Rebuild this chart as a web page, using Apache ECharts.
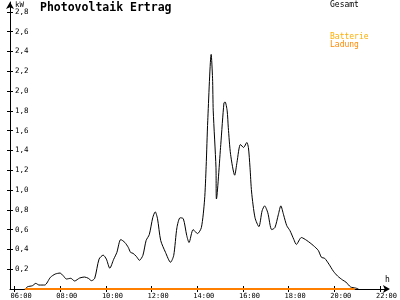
<!DOCTYPE html>
<html>
<head>
<meta charset="utf-8">
<script src="https://cdn.jsdelivr.net/npm/echarts@6/dist/echarts.min.js"></script>
<style>html,body{margin:0;padding:0;background:#fff}#c{width:400px;height:300px}</style>
</head>
<body>
<div id="c"></div>
<script>
// time in decimal hours
var gesamtHours = [6.47,6.57,6.78,6.93,7.07,7.32,7.57,7.78,7.99,8.13,8.27,8.46,8.63,8.85,9.06,9.23,9.37,9.51,9.70,9.88,10.02,10.17,10.34,10.48,10.65,10.83,10.98,11.08,11.19,11.33,11.47,11.62,11.76,11.90,12.05,12.16,12.26,12.40,12.61,12.83,12.97,13.11,13.25,13.39,13.54,13.64,13.82,14.01,14.18,14.32,14.39,14.46,14.61,14.67,14.70,14.82,14.84,15.03,15.17,15.22,15.31,15.36,15.46,15.64,15.74,15.89,16.03,16.17,16.24,16.31,16.38,16.53,16.70,16.84,16.95,17.09,17.26,17.40,17.55,17.66,17.78,17.92,18.06,18.23,18.34,18.56,18.80,19.08,19.30,19.44,19.58,19.77,19.96,20.15,20.37,20.51,20.72,20.93,21.06];
var gesamtKW = [0,0.023,0.033,0.057,0.04,0.04,0.118,0.151,0.161,0.134,0.101,0.108,0.081,0.111,0.121,0.108,0.084,0.108,0.302,0.342,0.302,0.21,0.30,0.37,0.50,0.47,0.42,0.37,0.36,0.33,0.29,0.34,0.49,0.55,0.72,0.78,0.71,0.49,0.37,0.27,0.34,0.62,0.72,0.71,0.54,0.47,0.60,0.56,0.62,0.90,1.24,1.70,2.37,2.13,1.80,1.23,0.91,1.46,1.88,1.89,1.80,1.63,1.36,1.15,1.28,1.46,1.43,1.48,1.43,1.23,0.98,0.72,0.63,0.79,0.84,0.77,0.60,0.62,0.75,0.84,0.75,0.64,0.59,0.50,0.45,0.52,0.49,0.44,0.39,0.32,0.31,0.25,0.18,0.13,0.09,0.07,0.02,0.01,0];
var ladungHours = [6.45, 20.9];
var ladungKW = [0, 0];
var xTicks = [6,8,10,12,14,16,18,20,22];
var yTicks = [0.2,0.4,0.6,0.8,1.0,1.2,1.4,1.6,1.8,2.0,2.2,2.4,2.6,2.8];

var gesamtData = gesamtHours.map(function(h,i){return [h, gesamtKW[i]];});
var ladungData = ladungHours.map(function(h,i){return [h, ladungKW[i]];});

var mono = 'DejaVu Sans Mono';
function pad(n){return (n<10?'0':'')+n;}
var chart = echarts.init(document.getElementById('c'), null, {renderer:'canvas'});
var xBase = {type:'value', min:5.8, max:22.35, position:'bottom', splitLine:{show:false}};
var yBase = {type:'value', min:0, max:2.9, position:'left', splitLine:{show:false}};
function t(text, left, top, size, color, bold){
  return {text:text, left:left, top:top, padding:0, textStyle:{fontFamily:mono, fontWeight:bold?'bold':'normal', fontSize:size, color:color}};
}
chart.setOption({
  animation:false,
  backgroundColor:'#fff',
  grid:{left:10,right:2,top:2,bottom:10},
  title:[
    t('Photovoltaik Ertrag', 40, 2, 11.5, '#000', true),
    t('kW', 15, 1, 7.5, '#000'),
    t('Gesamt', 330, 1, 8, '#000'),
    t('Batterie', 330, 33, 8, '#ffae00'),
    t('Ladung', 330, 41, 8, '#ff8a00'),
    t('h', 385, 276, 8, '#000')
  ],
  xAxis:[
    Object.assign({}, xBase, {
      axisLine:{show:true, lineStyle:{color:'#000', width:1}, symbol:['none','arrow'], symbolSize:[6,7], symbolOffset:[0,2]},
      axisTick:{show:true, inside:false, length:3, customValues:xTicks, lineStyle:{color:'#000'}},
      axisLabel:{show:true, customValues:xTicks, margin:4, align:'left', padding:[0,0,0,-4], fontFamily:mono, fontSize:7, color:'#000',
        formatter:function(v){return pad(Math.round(v))+':00';}}
    }),
    Object.assign({}, xBase, {
      axisLine:{show:false},
      axisTick:{show:true, inside:true, length:3, customValues:xTicks, lineStyle:{color:'#000'}},
      axisLabel:{show:false}
    })
  ],
  yAxis:[
    Object.assign({}, yBase, {
      axisLine:{show:true, lineStyle:{color:'#000', width:1}, symbol:['none','arrow'], symbolSize:[6,7]},
      axisTick:{show:true, inside:false, length:3, customValues:yTicks, lineStyle:{color:'#000'}},
      axisLabel:{show:true, inside:true, customValues:yTicks, margin:5, fontFamily:mono, fontSize:7.5, color:'#000',
        formatter:function(v){return v.toFixed(1).replace('.',',');}}
    }),
    Object.assign({}, yBase, {
      axisLine:{show:false},
      axisTick:{show:true, inside:true, length:3, customValues:yTicks, lineStyle:{color:'#000'}},
      axisLabel:{show:false}
    })
  ],
  series:[
    {name:'Gesamt', type:'line', xAxisIndex:0, yAxisIndex:0, data:gesamtData, smooth:0.25, showSymbol:false,
      lineStyle:{color:'#000', width:1}, z:3},
    {name:'Batterie Ladung', type:'line', xAxisIndex:0, yAxisIndex:0, data:ladungData, showSymbol:false,
      lineStyle:{color:'#ff8000', width:2}, z:4}
  ]
});
</script>
</body>
</html>
